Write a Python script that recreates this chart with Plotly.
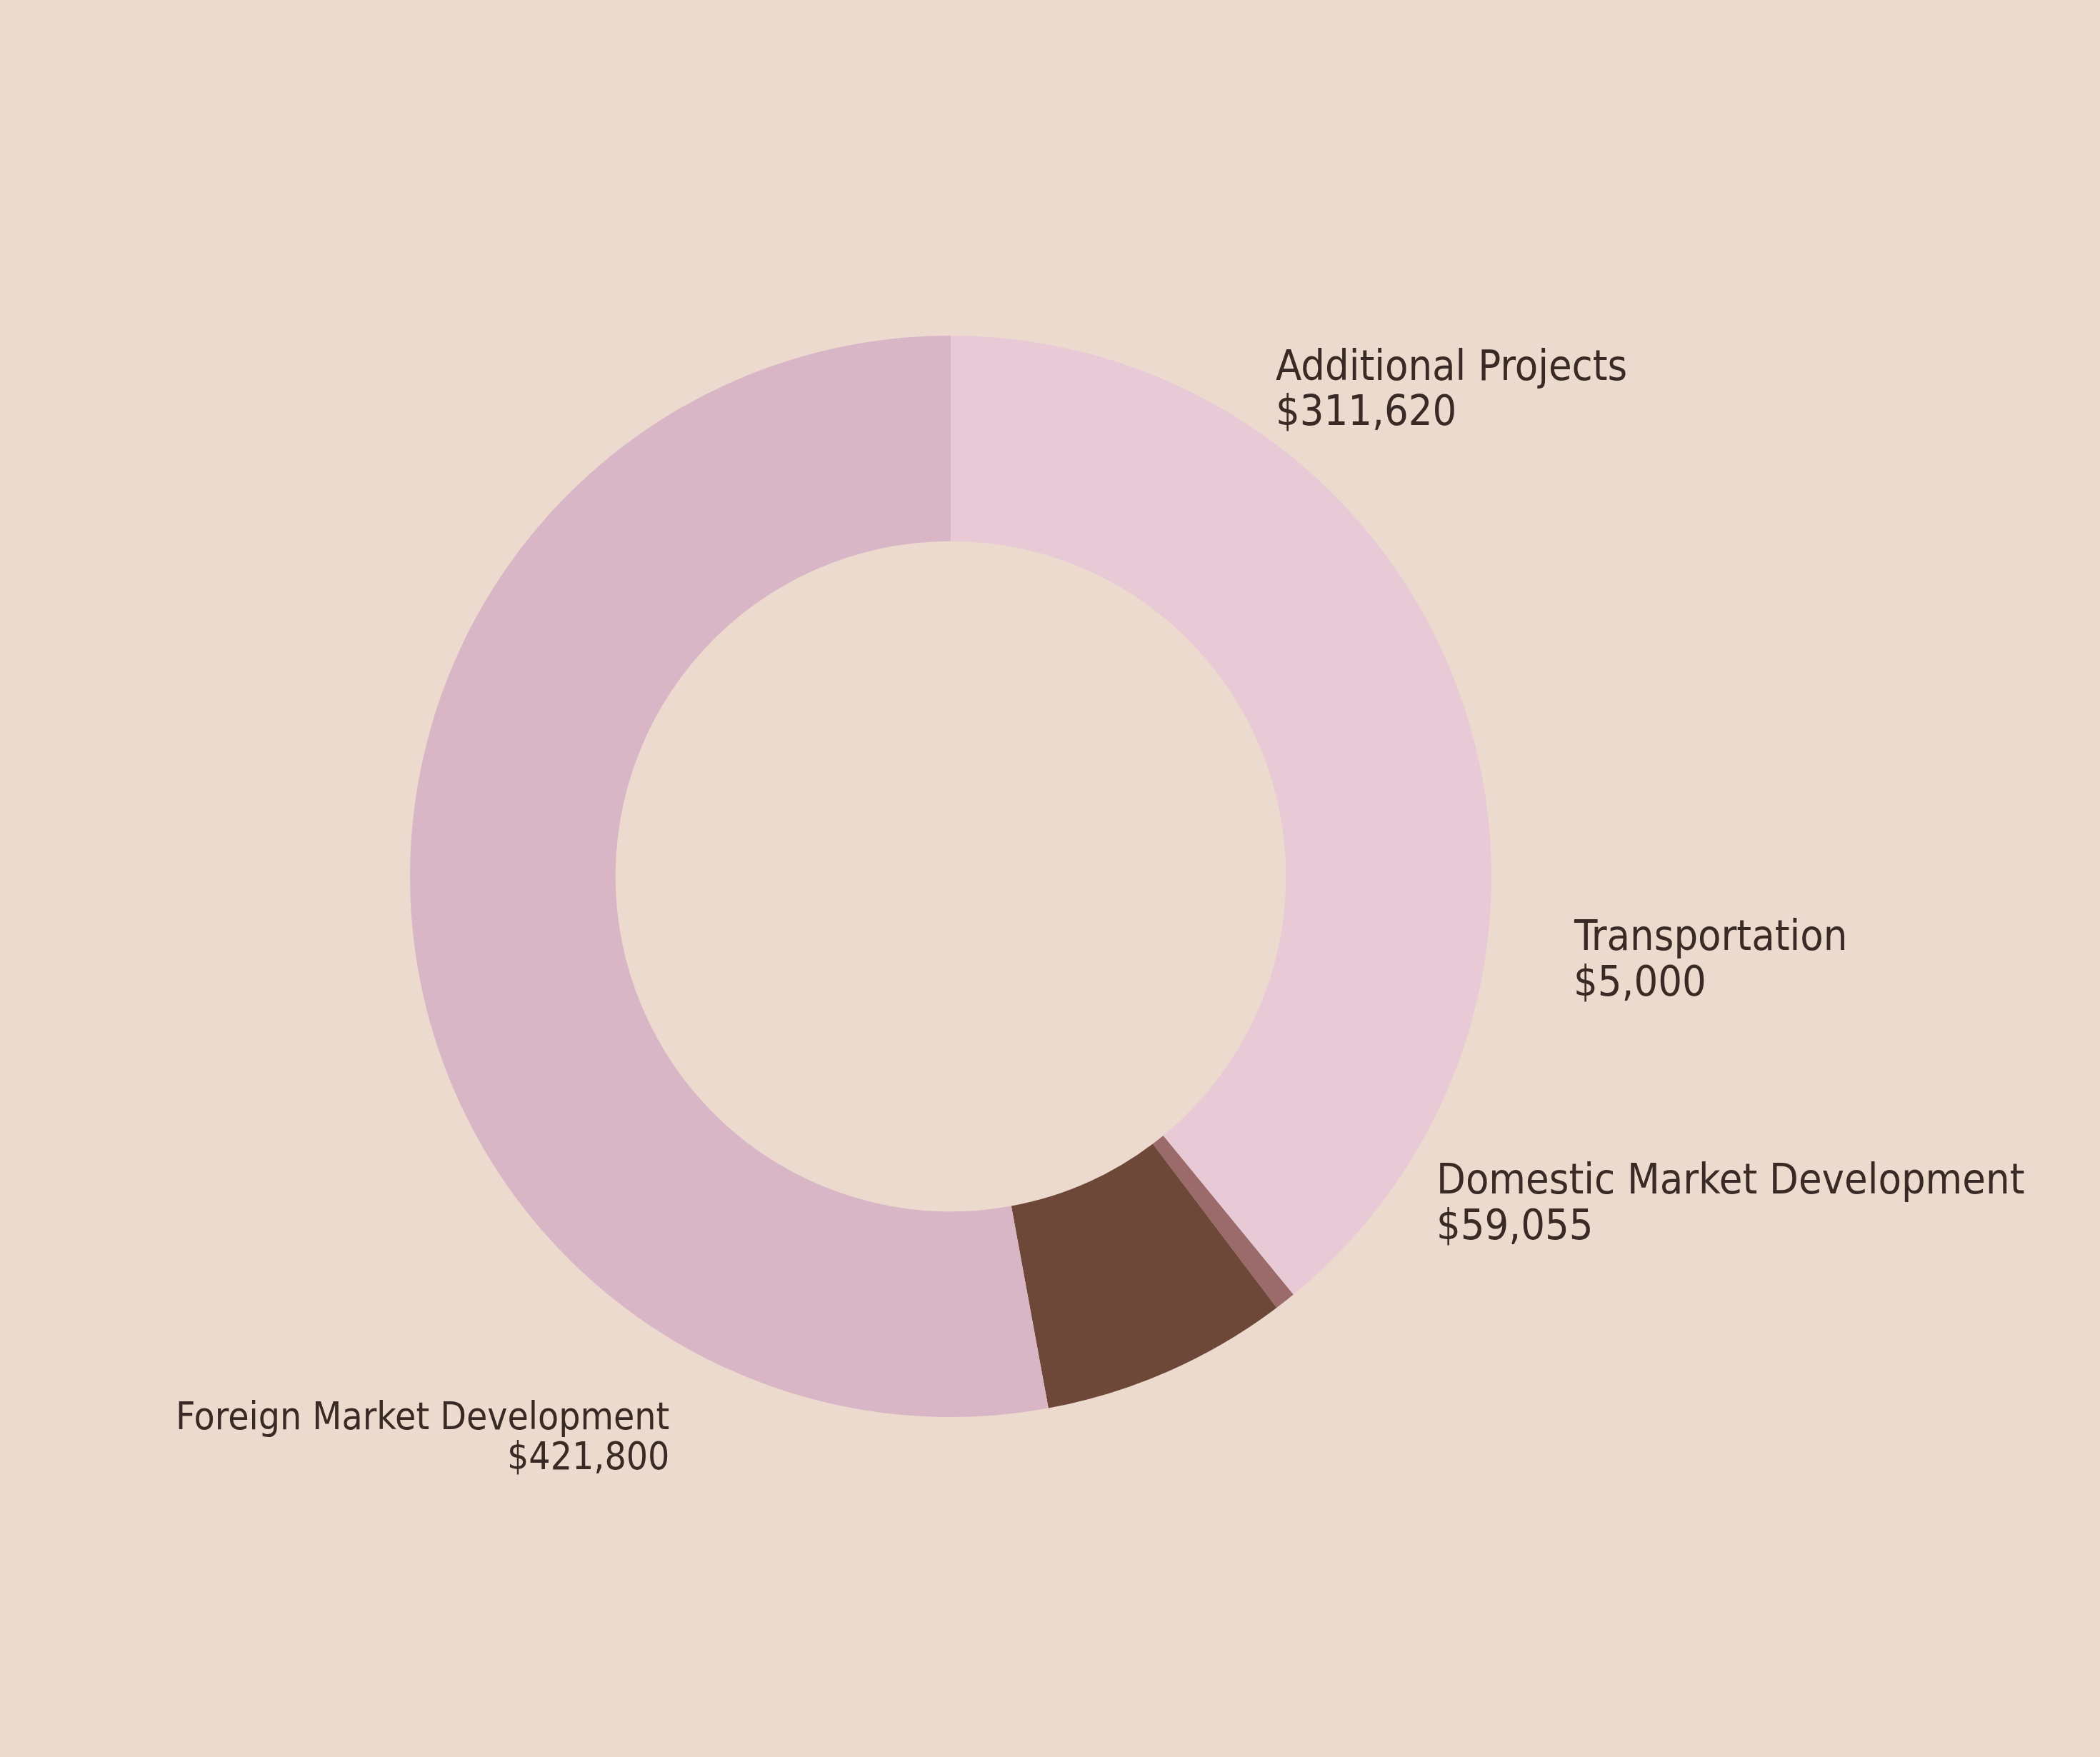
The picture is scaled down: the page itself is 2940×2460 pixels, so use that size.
import plotly.graph_objects as go

categories = ["Additional Projects", "Transportation", "Domestic Market Development", "Foreign Market Development"]
values = [311620, 5000, 59055, 421800]
colors = ["#e8cad6", "#9b6a6a", "#6d4839", "#d9b6c6"]

W, H = 2940, 2460
BG = "#ebdacd"
TXT = "#3a2a25"
FONT = "DejaVu Sans Condensed, DejaVu Sans, sans-serif"

# label layout (pixels): (anchor x, middle y of line 1, middle y of line 2, xanchor, font size)
label_layout = [
    (1786, 511, 574, "left", 59),
    (2203, 1309, 1373, "left", 59),
    (2011, 1650, 1714, "left", 59),
    (937, 1982, 2038, "right", 53),
]

cx, cy, r = 1331, 1227, 757

fig = go.Figure()
fig.add_trace(go.Pie(
    labels=categories,
    values=values,
    marker=dict(colors=colors, line=dict(width=0)),
    hole=0.62,
    sort=False,
    direction="clockwise",
    rotation=0,
    textinfo="none",
    showlegend=False,
    domain=dict(x=[(cx - r) / W, (cx + r) / W], y=[1 - (cy + r) / H, 1 - (cy - r) / H]),
))

annotations = []
for cat, val, (x, m1, m2, xa, fs) in zip(categories, values, label_layout):
    for txt, ymid in ((cat, m1), (f"${val:,}", m2)):
        annotations.append(dict(
            text=txt, x=x / W, y=1 - ymid / H, xref="paper", yref="paper",
            xanchor=xa, yanchor="middle", showarrow=False, align=xa,
            borderpad=0, borderwidth=0,
            font=dict(family=FONT, size=fs, color=TXT),
        ))

fig.update_layout(
    width=W, height=H,
    margin=dict(l=0, r=0, t=0, b=0),
    paper_bgcolor=BG, plot_bgcolor=BG,
    annotations=annotations,
    font=dict(family=FONT, color=TXT),
)

fig.write_html(
    "out.html",
    config={"displayModeBar": False},
    post_script="document.body.style.margin='0';document.body.style.background='%s';" % BG,
)
